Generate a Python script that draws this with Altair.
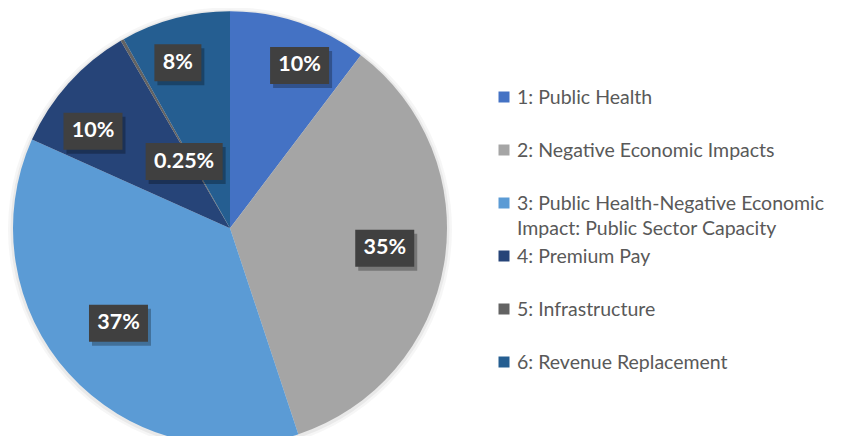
import altair as alt
import pandas as pd

# ---- data ----
categories = [
    "1: Public Health",
    "2: Negative Economic Impacts",
    "3: Public Health-Negative Economic Impact: Public Sector Capacity",
    "4: Premium Pay",
    "5: Infrastructure",
    "6: Revenue Replacement",
]
shares = [10.3, 34.6, 36.8, 9.9, 0.25, 8.15]
share_labels = ["10%", "35%", "37%", "10%", "0.25%", "8%"]
legend_text = [
    "\u00a01: Public Health",
    "\u00a02: Negative Economic Impacts",
    "\u00a03: Public Health-Negative Economic\nImpact: Public Sector Capacity",
    "\u00a04: Premium Pay",
    "\u00a05: Infrastructure",
    "\u00a06: Revenue Replacement",
]
colors = ["#4472C4", "#A5A5A5", "#5B9BD5", "#264478", "#636363", "#255E91"]

# data-label placement (like Excel's "best fit" labels): fraction of radius, angle nudge (deg)
label_r = [0.816, 0.719, 0.675, 0.774, 0.373, 0.80]
label_nudge = [4.6, -2.0, 1.7, -6.6, -4.7, -2.8]

# ---- layout ----
W, H = 827, 428
CX, CY, R = 222, 220.3, 217

df = pd.DataFrame({
    "idx": list(range(len(categories))),
    "cat": categories,
    "share": shares,
    "lab": share_labels,
    "legend": legend_text,
    "lr": label_r,
    "nudge": label_nudge,
})

color = alt.Color("cat:N", scale=alt.Scale(domain=categories, range=colors), legend=None)
theta = alt.Theta("share:Q", stack=True)
order = alt.Order("idx:Q")

base = alt.Chart(df)

halo1 = base.mark_arc(outerRadius=R + 5, color="#000000", opacity=0.035).encode(
    theta=theta, order=order, x=alt.value(CX), y=alt.value(CY + 1))
halo2 = base.mark_arc(outerRadius=R + 2.5, color="#000000", opacity=0.05).encode(
    theta=theta, order=order, x=alt.value(CX), y=alt.value(CY + 1))

pie = base.mark_arc(outerRadius=R).encode(
    theta=theta, color=color, order=order, x=alt.value(CX), y=alt.value(CY))

labels = base.transform_window(
    cum="sum(share)", sort=[alt.SortField("idx")], frame=[None, 0]
).transform_joinaggregate(
    total="sum(share)"
).transform_calculate(
    ang="2*PI*(datum.cum - datum.share/2)/datum.total + datum.nudge*PI/180",
).transform_calculate(
    lx=f"{CX} + datum.lr*{R}*sin(datum.ang)",
    ly=f"{CY} - datum.lr*{R}*cos(datum.ang)",
    bw="23 + 12*length(replace(datum.lab, '.', '')) + (indexof(datum.lab, '.') >= 0 ? 6 : 0)",
).transform_calculate(
    bx1="datum.lx - datum.bw/2",
    bx2="datum.lx + datum.bw/2",
    by1="datum.ly - 18.5",
    by2="datum.ly + 18.5",
    sx1="datum.lx - datum.bw/2 + 3",
    sx2="datum.lx + datum.bw/2 + 3",
    sy1="datum.ly - 18.5 + 4",
    sy2="datum.ly + 18.5 + 4",
)

shadow = labels.mark_rect(color="#000000", opacity=0.28).encode(
    x=alt.X("sx1:Q", scale=None, axis=None), x2="sx2:Q",
    y=alt.Y("sy1:Q", scale=None, axis=None), y2="sy2:Q")
box = labels.mark_rect(color="#404040").encode(
    x=alt.X("bx1:Q", scale=None, axis=None), x2="bx2:Q",
    y=alt.Y("by1:Q", scale=None, axis=None), y2="by2:Q")
txt = labels.mark_text(font="Lato", fontWeight="bold", fontSize=21.5, color="#FFFFFF",
                       align="center", baseline="middle").encode(
    x=alt.X("lx:Q", scale=None, axis=None),
    y=alt.Y("ly:Q", scale=None, axis=None),
    text="lab:N")

ly = alt.Y("idx:Q", scale=alt.Scale(domain=[0, 5], range=[89, 354], nice=False, zero=False), axis=None)
leg_sq = base.mark_square(size=121, opacity=1).encode(
    x=alt.value(496), y=ly, color=color)
leg_txt = base.mark_text(font="Lato", fontSize=19.5, color="#595959", align="left",
                         baseline="alphabetic", dy=7, lineBreak="\n", lineHeight=25).encode(
    x=alt.value(509), y=ly, text="legend:N")

chart = alt.layer(halo1, halo2, pie, shadow, box, txt, leg_sq, leg_txt).resolve_scale(
    x="independent", y="independent"
).properties(
    width=W, height=H, autosize=alt.AutoSizeParams(type="none"), padding=0, background="#FFFFFF"
).configure_view(stroke=None)

chart.save("out.html", embed_options={"renderer": "svg", "actions": False})
